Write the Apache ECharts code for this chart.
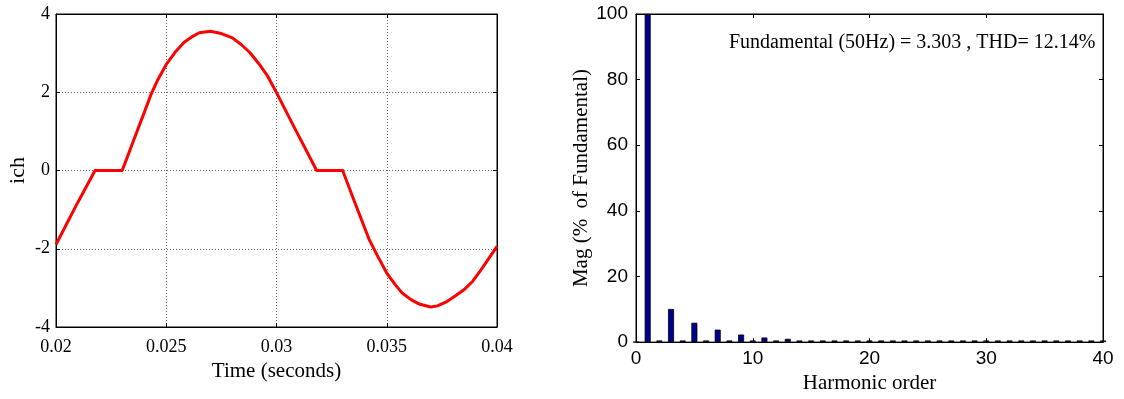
<!DOCTYPE html>
<html>
<head>
<meta charset="utf-8">
<script src="https://cdn.jsdelivr.net/npm/echarts@6/dist/echarts.min.js"></script>
<style>
  html, body { margin: 0; padding: 0; background: #fff; }
  #chart { width: 1124px; height: 399px; }
</style>
</head>
<body>
<div id="chart"></div>
<script>
// left plot: load current over one cycle
const time = [0.0200, 0.0209, 0.02177, 0.0230, 0.0232, 0.0235, 0.0240, 0.0243, 0.0246, 0.0250,
  0.0254, 0.0258, 0.0262, 0.0265, 0.0270, 0.0275, 0.0280, 0.0284, 0.0288, 0.0292,
  0.0296, 0.0300, 0.0304, 0.0308, 0.0314, 0.03182, 0.0330, 0.0335, 0.0342, 0.0346,
  0.0350, 0.0354, 0.0357, 0.0361, 0.0365, 0.0370, 0.0373, 0.0377, 0.0381, 0.0385,
  0.0389, 0.0392, 0.0396, 0.0400];
const ich = [-1.89, -0.91, 0.0, 0.0, 0.29, 0.74, 1.48, 1.93, 2.30, 2.71,
  3.02, 3.27, 3.43, 3.52, 3.56, 3.50, 3.39, 3.22, 3.01, 2.73,
  2.41, 1.99, 1.55, 1.11, 0.46, 0.0, 0.0, -0.74, -1.76, -2.20,
  -2.62, -2.93, -3.13, -3.30, -3.42, -3.49, -3.46, -3.36, -3.21, -3.05,
  -2.83, -2.60, -2.27, -1.94];

// right plot: FFT spectrum
const harmonic = [0, 1, 2, 3, 4, 5, 6, 7, 8, 9, 10, 11, 12, 13, 14, 15, 16, 17, 18, 19, 20,
  21, 22, 23, 24, 25, 26, 27, 28, 29, 30, 31, 32, 33, 34, 35, 36, 37, 38, 39, 40];
const mag = [0, 100, 0.5, 10.1, 0.5, 5.9, 0.5, 3.8, 0.5, 2.3, 0.5, 1.4, 0.5, 1.0, 0.5, 0.5, 0.5, 0.5, 0.5, 0.5, 0.5,
  0.5, 0.5, 0.5, 0.5, 0.5, 0.5, 0.5, 0.5, 0.5, 0.5, 0.5, 0.5, 0.5, 0.5, 0.5, 0.5, 0.5, 0.5, 0.5, 0.5];
const fftText = "Fundamental (50Hz) = 3.303 , THD= 12.14%";

const serif = "Liberation Serif";
const sans = "Liberation Sans";

const chart = echarts.init(document.getElementById("chart"));

// box axis helper (MATLAB style: ticks inside on all four sides)
function axisBase(gridIndex, min, max, interval, position) {
  return {
    gridIndex, type: "value", min, max, interval, position,
    axisLine: { show: true, onZero: false, lineStyle: { color: "#000", width: 1 } },
    axisTick: { show: true, inside: true, length: 4, lineStyle: { color: "#000" } },
    splitLine: { show: false },
    axisLabel: { show: false },
  };
}

const dotted = { show: true, lineStyle: { color: "#666", type: [1, 2], width: 1 } };

const xLeft = axisBase(0, 0.02, 0.04, 0.005, "bottom");
xLeft.splitLine = dotted;
xLeft.axisLabel = {
  show: true, margin: 11, color: "#000", fontFamily: serif, fontSize: 18,
  formatter: (v) => String(parseFloat(v.toFixed(4))),
};
Object.assign(xLeft, {
  name: "Time (seconds)", nameLocation: "middle", nameGap: 32,
  nameTextStyle: { color: "#000", fontFamily: serif, fontSize: 21 },
});

const yLeft = axisBase(0, -4, 4, 2, "left");
yLeft.splitLine = dotted;
yLeft.axisLabel = { show: true, margin: 6, color: "#000", fontFamily: serif, fontSize: 18 };
Object.assign(yLeft, {
  name: "ich", nameLocation: "middle", nameGap: 27,
  nameTextStyle: { color: "#000", fontFamily: serif, fontSize: 22 },
});

const xRight = axisBase(1, 0, 40, 10, "bottom");
xRight.axisLabel = { show: true, margin: 7, color: "#000", fontFamily: sans, fontSize: 19 };
Object.assign(xRight, {
  name: "Harmonic order", nameLocation: "middle", nameGap: 29,
  nameTextStyle: { color: "#000", fontFamily: serif, fontSize: 21 },
});

const yRight = axisBase(1, 0, 100, 20, "left");
yRight.axisLabel = { show: true, margin: 8, color: "#000", fontFamily: sans, fontSize: 19 };
Object.assign(yRight, {
  name: "Mag (%  of Fundamental)", nameLocation: "middle", nameGap: 38,
  nameTextStyle: { color: "#000", fontFamily: serif, fontSize: 21 },
});

const option = {
  animation: false,
  backgroundColor: "#fff",
  grid: [
    { left: 56, top: 14, width: 441, height: 313, show: true, borderColor: "#000", borderWidth: 1, backgroundColor: "#fff" },
    { left: 636, top: 14, width: 467, height: 331, show: true, borderColor: "#000", borderWidth: 1, backgroundColor: "#fff" },
  ],
  xAxis: [
    xLeft,
    axisBase(0, 0.02, 0.04, 0.005, "top"),
    xRight,
    axisBase(1, 0, 40, 10, "top"),
  ],
  yAxis: [
    yLeft,
    axisBase(0, -4, 4, 2, "right"),
    yRight,
    axisBase(1, 0, 100, 20, "right"),
  ],
  graphic: [
    {
      type: "text", left: 729, top: 33,
      style: { text: fftText, fill: "#000", font: "20px 'Liberation Serif'" },
    },
  ],
  series: [
    {
      type: "line", xAxisIndex: 0, yAxisIndex: 0,
      data: time.map((t, i) => [t, ich[i]]),
      symbol: "none",
      lineStyle: { color: "#ff0000", width: 3, join: "round" },
      z: 5,
    },
    {
      type: "bar", xAxisIndex: 2, yAxisIndex: 2,
      data: harmonic.map((h, i) => [h, mag[i]]),
      barWidth: 6,
      itemStyle: { color: "#00008f", borderColor: "#000", borderWidth: 0.8 },
    },
  ],
};

chart.setOption(option);
</script>
</body>
</html>
